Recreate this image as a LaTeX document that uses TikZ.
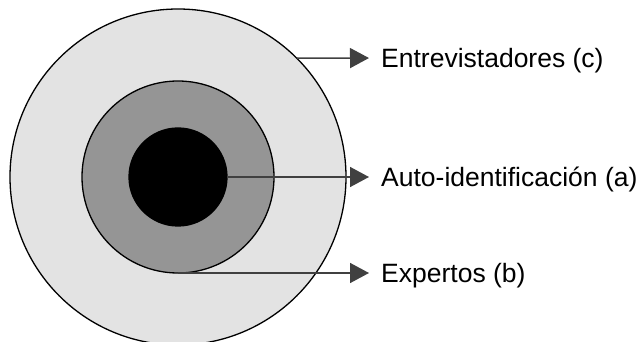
\documentclass[tikz,border=0pt]{standalone}
\usepackage{fontspec}
\setmainfont{Liberation Sans}
\usetikzlibrary{arrows.meta}
\definecolor{ringc}{HTML}{E3E3E3}
\definecolor{ringb}{HTML}{959595}
\definecolor{arrowc}{HTML}{404040}
\tikzset{
  ring/.style={circle, draw=black, line width=1.3pt, inner sep=0pt, outer sep=0pt},
  pointer/.style={draw=arrowc, line width=1.6pt, -{Triangle[length=19pt,width=20pt]}, shorten >=13pt},
  lbl/.style={anchor=base west, inner sep=0pt, font=\fontsize{26.5}{31}\selectfont}
}
\begin{document}
\begin{tikzpicture}[x=1pt,y=-1pt]
\useasboundingbox (0,0) rectangle (638,342);
\begin{scope}
\clip (0,0) rectangle (638,342);
\node[ring, fill=ringc, minimum size=336pt] (outer) at (178,177) {};
\node[ring, fill=ringb, minimum size=192pt] (middle) at (178,177) {};
\node[ring, fill=black, minimum size=98pt] (inner) at (178,177) {};
\end{scope}
\node[lbl] (lc) at (381,67.5) {Entrevistadores (c)};
\node[lbl] (la) at (381,186.5) {Auto-identificación (a)};
\node[lbl] (lb) at (381,282.5) {Expertos (b)};
\coordinate (tc) at (382,58);
\coordinate (ta) at (382,177);
\coordinate (tb) at (382,273);
\draw[pointer] (outer.45) -- (tc);
\draw[pointer] (inner.east) -- (ta);
\draw[pointer] (middle.south) -- (tb);
\end{tikzpicture}
\end{document}
